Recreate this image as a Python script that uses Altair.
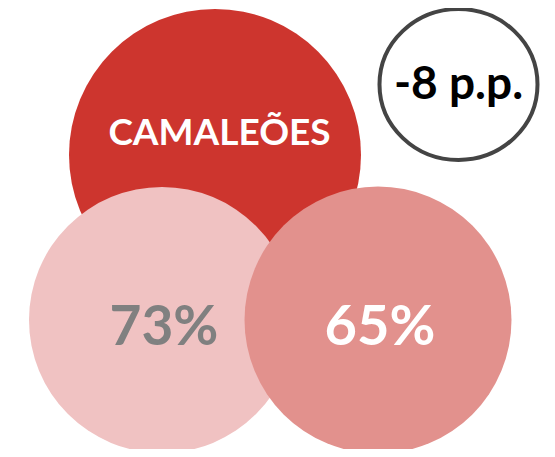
import altair as alt
import pandas as pd

# ---- data (texts / values) ----
group_label = "CAMALEÕES"
shares = [73, 65]                       # % shown in the two lower circles
share_labels = [f"{v}%" for v in shares]
diff_label = f"{shares[1] - shares[0]} p.p."   # -8 p.p.

# ---- layout (page-pixel coordinates, kept apart from the data) ----
circles = pd.DataFrame({
    "name": ["group", "a", "b"],
    "cx": [215, 162, 378],
    "cy": [155, 320, 320],
    "r": [146, 133, 133.5],
    "fill": ["#CD352E", "#F0C2C2", "#E2918D"],
    "order": [0, 1, 2],
})
circles["size"] = (2 * circles["r"]) ** 2

badge = pd.DataFrame({"cx": [458.5], "cy": [84.5], "rx": [79]})
badge["size"] = (2 * badge["rx"]) ** 2

texts = pd.DataFrame({
    "label": [group_label, share_labels[0], share_labels[1], diff_label],
    "x": [219.5, 164, 380, 458.5],
    "y": [145, 345, 345, 99],
    "fs": [37, 55, 56, 46],
    "color": ["#FFFFFF", "#808080", "#FFFFFF", "#000000"],
})

W, H = 539, 441
xs = alt.Scale(domain=[8, 8 + W], nice=False, zero=False)
ys = alt.Scale(domain=[8, 8 + H], nice=False, zero=False, reverse=True)

ry = 0.955
k = 0.5523
ell = (f"M1,0 C1,{k*ry:.4f} {k:.4f},{ry} 0,{ry} "
       f"C{-k:.4f},{ry} -1,{k*ry:.4f} -1,0 "
       f"C-1,{-k*ry:.4f} {-k:.4f},{-ry} 0,{-ry} "
       f"C{k:.4f},{-ry} 1,{-k*ry:.4f} 1,0 Z")

circ_layer = alt.Chart(circles).mark_point(
    filled=True, shape="circle", opacity=1, strokeWidth=0
).encode(
    x=alt.X("cx:Q", scale=xs, axis=None),
    y=alt.Y("cy:Q", scale=ys, axis=None),
    size=alt.Size("size:Q", scale=None),
    color=alt.Color("fill:N", scale=None),
    order=alt.Order("order:Q"),
)

badge_layer = alt.Chart(badge).mark_point(
    filled=False, shape=ell, stroke="#444444", strokeWidth=4, fill="#FFFFFF",
    fillOpacity=1, opacity=1
).encode(
    x=alt.X("cx:Q", scale=xs, axis=None),
    y=alt.Y("cy:Q", scale=ys, axis=None),
    size=alt.Size("size:Q", scale=None),
)

text_layer = alt.Chart(texts).mark_text(
    font="Lato", fontWeight="bold", align="center", baseline="alphabetic"
).encode(
    x=alt.X("x:Q", scale=xs, axis=None),
    y=alt.Y("y:Q", scale=ys, axis=None),
    text="label:N",
    size=alt.Size("fs:Q", scale=None),
    color=alt.Color("color:N", scale=None),
)

chart = alt.layer(circ_layer, badge_layer, text_layer).properties(
    width=W, height=H, padding=0,
    autosize=alt.AutoSizeParams(type="none"),
    background="#FFFFFF",
).configure_view(stroke=None)

chart.save("out.html", embed_options={"renderer": "svg", "actions": False})
